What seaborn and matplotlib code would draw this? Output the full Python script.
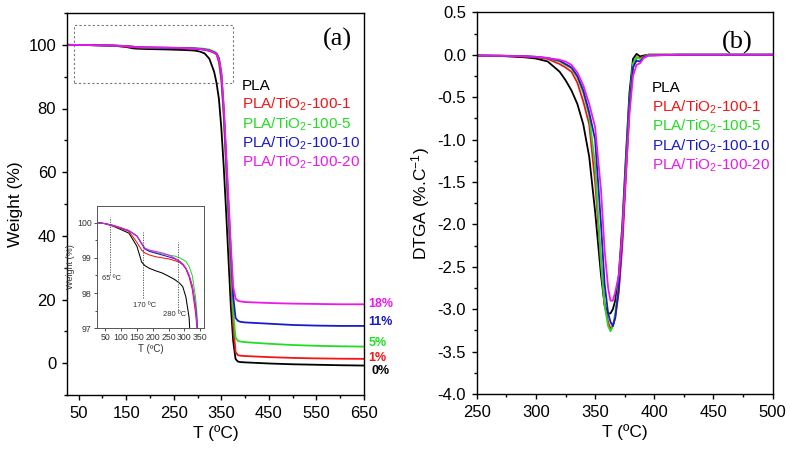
import matplotlib
matplotlib.use("Agg")
import matplotlib.pyplot as plt
import matplotlib.transforms as mtransforms
from matplotlib.patches import Rectangle
from matplotlib.ticker import MultipleLocator, FormatStrFormatter
import pandas as pd
import seaborn as sns

# ---------------- data ----------------
sample_names = ["PLA", "PLA/TiO$_2$-100-1", "PLA/TiO$_2$-100-5",
                "PLA/TiO$_2$-100-10", "PLA/TiO$_2$-100-20"]
sample_colors = ["#000000", "#F41414", "#22DD22", "#1A1ACD", "#EE18EE"]
residue_labels = ["0%", "1%", "5%", "11%", "18%"]
residue_label_y = [-2.6, 1.55, 6.25, 12.95, 18.5]

# TGA (weight %, panel a and inset)
tga_T = [25, 50, 75, 100, 125, 150, 165, 175, 190, 210, 230, 250, 270, 285, 295,
         305, 315, 325, 335, 340, 345, 350, 355, 360, 365, 370, 375, 380, 385,
         390, 400, 450, 500, 550, 600, 650]
tga_pla = [100.0, 99.97, 99.9, 99.8, 99.7, 99.33, 98.88, 98.78, 98.7, 98.63, 98.57,
           98.48, 98.38, 98.28, 98.18, 97.88, 97.3, 95.6, 91.5, 88.0, 83.0, 74.0,
           62.0, 48.0, 33.0, 18.0, 7.0, 1.3, 0.5, 0.35, 0.25, -0.1, -0.35, -0.5,
           -0.65, -0.75]
tga_r1 = [100.0, 99.97, 99.9, 99.83, 99.75, 99.44, 99.22, 99.14, 99.08, 99.03, 99.0,
          98.97, 98.92, 98.87, 98.8, 98.68, 98.45, 98.1, 97.45, 97.0, 94.5, 89.0,
          78.0, 62.0, 45.0, 28.0, 12.0, 3.5, 2.5, 2.35, 2.25, 1.9, 1.65, 1.5, 1.4,
          1.35]
tga_r5 = [100.0, 99.97, 99.92, 99.85, 99.77, 99.62, 99.42, 99.28, 99.2, 99.15, 99.11,
          99.08, 99.05, 99.0, 98.95, 98.9, 98.75, 98.5, 97.9, 97.4, 95.8, 90.5,
          79.0, 64.0, 47.0, 31.0, 16.0, 8.0, 7.0, 6.8, 6.6, 6.1, 5.7, 5.45, 5.3,
          5.2]
tga_r10 = [100.0, 99.97, 99.92, 99.85, 99.77, 99.62, 99.4, 99.25, 99.18, 99.13, 99.08,
           99.03, 98.97, 98.9, 98.82, 98.7, 98.5, 98.2, 97.65, 97.2, 95.8, 91.0,
           80.0, 65.0, 50.0, 35.0, 21.0, 14.2, 13.3, 13.0, 12.8, 12.4, 12.0, 11.8,
           11.7, 11.7]
tga_r20 = [100.0, 99.97, 99.92, 99.85, 99.77, 99.62, 99.4, 99.27, 99.22, 99.18, 99.14,
           99.08, 98.99, 98.9, 98.83, 98.7, 98.5, 98.2, 97.6, 97.1, 95.5, 91.5,
           81.0, 67.0, 52.0, 37.0, 24.0, 20.3, 19.6, 19.4, 19.2, 18.9, 18.7, 18.6,
           18.5, 18.5]

# DTGA (%/C, panel b)
dtga_T = [250, 270, 290, 300, 310, 320, 325, 330, 335, 340, 345, 350, 355, 358, 361,
          363, 365, 367, 370, 373, 376, 379, 382, 385, 388, 391, 395, 420, 460, 500]
dtga_pla = [-0.01, -0.015, -0.03, -0.045, -0.08, -0.2, -0.3, -0.42, -0.58, -0.82,
            -1.2, -1.85, -2.6, -2.95, -3.05, -3.05, -3.0, -2.9, -2.6, -2.0, -1.2,
            -0.45, -0.05, 0.01, -0.02, -0.01, 0.0, 0.0, 0.0, 0.0]
dtga_r1 = [-0.01, -0.012, -0.02, -0.03, -0.05, -0.11, -0.15, -0.2, -0.33, -0.55,
           -0.82, -1.5, -2.45, -2.95, -3.15, -3.23, -3.2, -3.1, -2.8, -2.25, -1.45,
           -0.65, -0.15, -0.03, -0.04, -0.02, 0.0, 0.0, 0.0, 0.0]
dtga_r5 = [-0.01, -0.012, -0.018, -0.025, -0.04, -0.08, -0.12, -0.16, -0.27, -0.45,
           -0.72, -1.3, -2.45, -2.95, -3.2, -3.26, -3.2, -3.05, -2.7, -2.1, -1.3,
           -0.55, -0.1, -0.03, -0.05, -0.03, 0.0, 0.0, 0.0, 0.0]
dtga_r10 = [-0.01, -0.012, -0.018, -0.025, -0.04, -0.07, -0.11, -0.15, -0.25, -0.42,
            -0.68, -1.0, -2.0, -2.7, -3.05, -3.15, -3.2, -3.1, -2.75, -2.15, -1.35,
            -0.6, -0.15, -0.07, -0.08, -0.03, -0.01, 0.0, 0.0, 0.0]
dtga_r20 = [-0.01, -0.012, -0.018, -0.025, -0.04, -0.06, -0.08, -0.12, -0.21, -0.36,
            -0.58, -0.85, -1.6, -2.3, -2.75, -2.9, -2.9, -2.8, -2.6, -2.1, -1.4,
            -0.7, -0.25, -0.12, -0.1, -0.04, -0.01, 0.0, 0.0, 0.0]

inset_marks = [65, 170, 280]
inset_mark_text = ["65 \u00baC", "170 \u00baC", "280 \u00baC"]

# ---------------- tables ----------------
tga_series = [tga_pla, tga_r1, tga_r5, tga_r10, tga_r20]
dtga_series = [dtga_pla, dtga_r1, dtga_r5, dtga_r10, dtga_r20]
tga_df = pd.DataFrame({
    "T": [t for _ in sample_names for t in tga_T],
    "W": [v for s in tga_series for v in s],
    "sample": [n for n in sample_names for _ in tga_T],
})
dtga_df = pd.DataFrame({
    "T": [t for _ in sample_names for t in dtga_T],
    "D": [v for s in dtga_series for v in s],
    "sample": [n for n in sample_names for _ in dtga_T],
})
palette = dict(zip(sample_names, sample_colors))

# ---------------- style ----------------
sns.set_theme(style="ticks")
plt.rcParams.update({
    "font.family": ["Liberation Sans", "DejaVu Sans"],
    "mathtext.fontset": "custom",
    "mathtext.rm": "Liberation Sans",
    "mathtext.it": "Liberation Sans:italic",
    "mathtext.default": "regular",
    "axes.unicode_minus": False,
    "axes.edgecolor": "black",
    "axes.linewidth": 1.0,
    "xtick.color": "black",
    "ytick.color": "black",
    "text.color": "black",
    "axes.labelcolor": "black",
})

W, H = 790, 453
fig = plt.figure(figsize=(7.9, 4.53), dpi=100)


def box(l, t, r, b):
    return [l / W, 1 - b / H, (r - l) / W, (b - t) / H]


ax1 = fig.add_axes(box(66.7, 13, 364, 395))
ax2 = fig.add_axes(box(476.7, 12.3, 772.7, 394))


def style_axis(ax, size=12, major=3.6, minor=2.2, width=1.0, pad=4):
    for s in ax.spines.values():
        s.set_visible(True)
    ax.tick_params(which="both", direction="out", top=False, right=False,
                   width=width, labelsize=size, pad=pad)
    ax.tick_params(which="major", length=major)
    ax.tick_params(which="minor", length=minor)


# ---------------- panel (a) ----------------
sns.lineplot(data=tga_df, x="T", y="W", hue="sample", hue_order=sample_names,
             palette=palette, estimator=None, sort=False, legend=False,
             linewidth=1.3, ax=ax1)
ax1.set_xlim(25, 650)
ax1.set_ylim(-10, 110)
ax1.xaxis.set_major_locator(MultipleLocator(100))
ax1.xaxis.set_major_formatter(FormatStrFormatter("%d"))
ax1.set_xticks(range(50, 651, 100))
ax1.xaxis.set_minor_locator(MultipleLocator(50))
ax1.yaxis.set_major_locator(MultipleLocator(20))
ax1.yaxis.set_minor_locator(MultipleLocator(10))
style_axis(ax1)
ax1.set_xlabel("T (\u00baC)", fontsize=12.5, labelpad=3)
ax1.set_ylabel("Weight (%)", fontsize=12.5, labelpad=4)

ax1.add_patch(Rectangle((40, 88), 335, 18.3, fill=False, ec="#777777",
                        lw=0.8, ls=(0, (2, 2))))

fig.text(337.5 / W, 1 - 39 / H, "(a)", ha="center", va="center",
         family=["Liberation Serif", "DejaVu Serif"], fontsize=19)

for i, (name, col) in enumerate(zip(sample_names, sample_colors)):
    fig.text(241.7 / W, 1 - (89.5 + 19.3 * i) / H, name, color=col,
             fontsize=11, ha="left", va="baseline")
    fig.text(480 / W * 0 + (652 / W), 1 - (92 + 19.5 * i) / H, name, color=col,
             fontsize=11, ha="left", va="baseline")

trans = mtransforms.blended_transform_factory(ax1.transAxes, ax1.transData)
for lab, yv, col in zip(residue_labels, residue_label_y, sample_colors):
    xx = 1.025 if lab == "0%" else 1.014
    ax1.text(xx, yv, lab, color=col, fontsize=9, fontweight="bold",
             ha="left", va="center", transform=trans, clip_on=False)

# ---------------- inset ----------------
axin = fig.add_axes(box(96.7, 205.7, 204, 328.3))
sns.lineplot(data=tga_df, x="T", y="W", hue="sample", hue_order=sample_names,
             palette=palette, estimator=None, sort=False, legend=False,
             linewidth=0.75, ax=axin)
axin.set_xlim(23, 362)
axin.set_ylim(97, 100.48)
axin.set_xticks(range(50, 351, 50))
axin.set_yticks([97, 98, 99, 100])
axin.yaxis.set_minor_locator(MultipleLocator(0.5))
for s in axin.spines.values():
    s.set_visible(True)
    s.set_color("#555555")
    s.set_linewidth(0.7)
axin.tick_params(which="both", direction="out", top=False, right=False,
                 width=0.6, labelsize=6.3, pad=1.5, colors="#333333")
axin.tick_params(which="major", length=2.0)
axin.tick_params(which="minor", length=1.2)
axin.set_xlabel("T (\u00baC)", fontsize=7, color="#333333", labelpad=1.5)
axin.set_ylabel("Weight (%)", fontsize=6.5, color="#333333", labelpad=1.5)

mark_spans = [(98.5, 100.17), (97.85, 99.74), (97.52, 99.46)]
mark_text_pos = [(39, 98.42), (138.6, 97.66), (233, 97.4)]
for xm, (y0, y1), txt, (tx, ty) in zip(inset_marks, mark_spans, inset_mark_text,
                                       mark_text_pos):
    axin.plot([xm, xm], [y0, y1], color="#444444", lw=0.6, ls=(0, (1.5, 1.5)))
    axin.text(tx, ty, txt, fontsize=5.5, color="#333333", ha="left",
              va="center")

# ---------------- panel (b) ----------------
sns.lineplot(data=dtga_df, x="T", y="D", hue="sample", hue_order=sample_names,
             palette=palette, estimator=None, sort=False, legend=False,
             linewidth=1.3, ax=ax2)
ax2.set_xlim(250, 500)
ax2.set_ylim(-4.0, 0.5)
ax2.xaxis.set_major_locator(MultipleLocator(50))
ax2.xaxis.set_minor_locator(MultipleLocator(25))
ax2.yaxis.set_major_locator(MultipleLocator(0.5))
ax2.yaxis.set_minor_locator(MultipleLocator(0.25))
ax2.yaxis.set_major_formatter(FormatStrFormatter("%.1f"))
style_axis(ax2)
ax2.set_xlabel("T (\u00baC)", fontsize=12.5, labelpad=3)
ax2.set_ylabel("DTGA (%.C$^{-1}$)", fontsize=12.5, labelpad=4)

fig.text(737.3 / W, 1 - 42.7 / H, "(b)", ha="center", va="center",
         family=["Liberation Serif", "DejaVu Serif"], fontsize=19)

fig.savefig("out.png", dpi=100)
